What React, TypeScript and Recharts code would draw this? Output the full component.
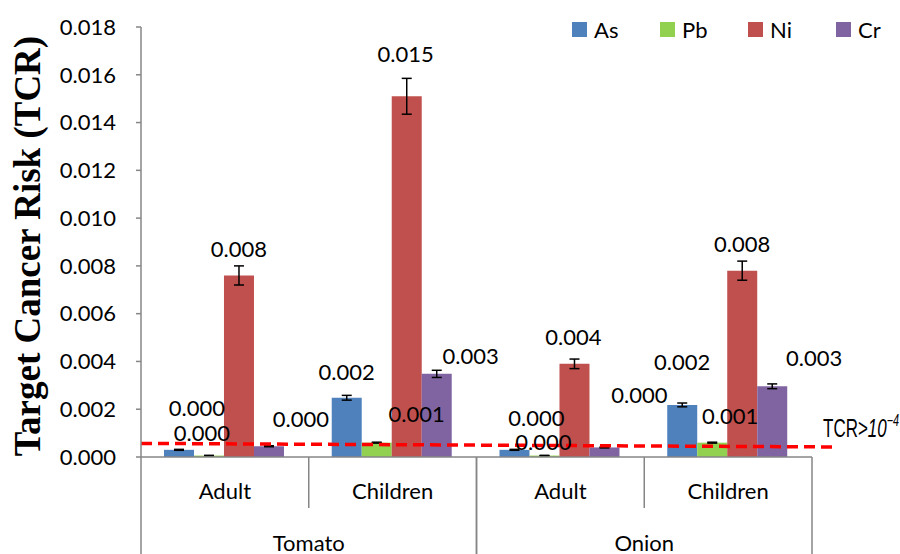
import { BarChart, Bar, XAxis, YAxis, ErrorBar, LabelList, ReferenceLine, Label } from 'recharts';

const categories = ['Adult', 'Children', 'Adult', 'Children'];
const groups = ['Tomato', 'Tomato', 'Onion', 'Onion'];

const asValues = [0.0003, 0.00248, 0.0003, 0.00218];
const asErrors = [0.00002, 0.0001, 0.00002, 0.00008];
const pbValues = [0.00006, 0.0006, 0.00006, 0.0006];
const pbErrors = [0.00001, 0.00002, 0.00001, 0.00002];
const niValues = [0.0076, 0.0151, 0.0039, 0.0078];
const niErrors = [0.0004, 0.00075, 0.0002, 0.0004];
const crValues = [0.00045, 0.00348, 0.0004, 0.00296];
const crErrors = [0.00002, 0.00015, 0.00002, 0.0001];

const yTicks = [0, 0.002, 0.004, 0.006, 0.008, 0.01, 0.012, 0.014, 0.016, 0.018];
const Y_MAX = 0.018;
const thresholdLeft = 0.00057;
const thresholdRight = 0.00042;

const data = categories.map((c, i) => ({
    name: groups[i] + ' ' + c,
    As: asValues[i], AsErr: asErrors[i],
    Pb: pbValues[i], PbErr: pbErrors[i],
    Ni: niValues[i], NiErr: niErrors[i],
    Cr: crValues[i], CrErr: crErrors[i],
}));

// data labels were dragged around by hand in the original, so nudge them
const labelShifts: Record<string, number[][]> = {
    As: [[18, -15], [0, 1], [22, -5], [0, -16]],
    Pb: [[-7, 4], [40, -2], [-1, 13], [18, 0]],
    Ni: [[0, 0], [-1, -16], [-1, 0], [0, 0]],
    Cr: [[32, -1], [34, 9], [35, -26], [42, -2]],
};

const series = [
    { key: 'As', color: '#4F81BD' },
    { key: 'Pb', color: '#92D050' },
    { key: 'Ni', color: '#C0504D' },
    { key: 'Cr', color: '#8064A2' },
];

const W = 900;
const H = 554;
const Y_AXIS_W = 141;
const X_AXIS_H = 97;
const M_TOP = 27;
const M_RIGHT = 88;
const AXIS_Y = H - X_AXIS_H;
const PLOT_H = AXIS_Y - M_TOP;
const BAND = (W - Y_AXIS_W - M_RIGHT) / categories.length;
const FONT = 'Lato, "Open Sans", sans-serif';
const GRID = '#868686';

const makeLabel = (shifts: number[][]) => (props: any) => {
    const { x, y, width, value, index } = props;
    const [dx, dy] = shifts[index] || [0, 0];
    return (
        <text x={x + width / 2 + dx} y={y - 27 + dy} textAnchor="middle" dominantBaseline="central"
            fontFamily={FONT} fontSize={22} fill="#000">
            {Number(value).toFixed(3)}
        </text>
    );
};

const XTick = (props: any) => {
    const { x, index } = props;
    const left = x - BAND / 2;
    const right = x + BAND / 2;
    const first = index % 2 === 0;
    return (
        <g>
            <text x={x} y={AXIS_Y + 33} textAnchor="middle" dominantBaseline="central"
                fontFamily={FONT} fontSize={22} fill="#000">{categories[index]}</text>
            {first ? (
                <>
                    <line x1={left} y1={AXIS_Y} x2={left} y2={H} stroke={GRID} strokeWidth={1.5} />
                    <line x1={right} y1={AXIS_Y} x2={right} y2={AXIS_Y + 51} stroke={GRID} strokeWidth={1.5} />
                    <text x={right} y={AXIS_Y + 85} textAnchor="middle" dominantBaseline="central"
                        fontFamily={FONT} fontSize={22} fill="#000">{groups[index]}</text>
                </>
            ) : (
                <line x1={right} y1={AXIS_Y} x2={right} y2={H} stroke={GRID} strokeWidth={1.5} />
            )}
        </g>
    );
};

const YTitle = (props: any) => {
    const vb = props.viewBox || { x: 0, y: M_TOP, height: PLOT_H };
    const cx = vb.x + 40;
    const cy = vb.y + vb.height / 2 + 4;
    return (
        <text x={cx} y={cy} transform={`rotate(-90, ${cx}, ${cy})`} textAnchor="middle"
            fontFamily='"Liberation Serif", "Times New Roman", serif' fontWeight="bold" fontSize={37} fill="#000">
            Target Cancer Risk (TCR)
        </text>
    );
};

// the hand-drawn red line runs a little downhill and past the plot edge
const ThresholdLine = (props: any) => {
    const { x1, y1, x2 } = props;
    const xEnd = x2 + 26;
    const yEnd = y1 + ((thresholdLeft - thresholdRight) * PLOT_H) / Y_MAX;
    return (
        <g>
            <line x1={x1} y1={y1} x2={xEnd} y2={yEnd} stroke="#FF0000" strokeWidth={3.5} strokeDasharray="11 6" />
            <g transform={`translate(${xEnd - 15}, ${yEnd - 10}) scale(0.68, 1)`}>
                <text x={0} y={0} fontFamily='"Liberation Sans", Arial, sans-serif' fontSize={25} fill="#000">
                    TCR&gt;<tspan fontStyle="italic">10</tspan>
                    <tspan fontStyle="italic" fontSize={16} dy={-11}>−4</tspan>
                </text>
            </g>
        </g>
    );
};

const App = () => {
    return (
        <div style={{ position: 'absolute', left: 0, top: 0, width: W, height: H, background: '#fff' }}>
            <BarChart width={W} height={H} data={data}
                margin={{ top: M_TOP, right: M_RIGHT, bottom: 0, left: 0 }}
                barCategoryGap="13.7%" barGap={0}>
                <XAxis dataKey="name" height={X_AXIS_H} interval={0} tick={<XTick />}
                    tickLine={false} axisLine={{ stroke: GRID, strokeWidth: 1.5 }} />
                <YAxis width={Y_AXIS_W} domain={[0, Y_MAX]} ticks={yTicks} allowDataOverflow
                    tickFormatter={(v: number) => v.toFixed(3)} tickSize={5} tickMargin={20}
                    tickLine={{ stroke: GRID, strokeWidth: 1.5 }} axisLine={{ stroke: GRID, strokeWidth: 1.5 }}
                    tick={{ fontFamily: FONT, fontSize: 22, fill: '#000' }}>
                    <Label content={<YTitle />} />
                </YAxis>
                {series.map((s) => (
                    <Bar key={s.key} dataKey={s.key} fill={s.color} isAnimationActive={false}>
                        <ErrorBar dataKey={s.key + 'Err'} width={5} stroke="#000" strokeWidth={1.5}
                            direction="y" isAnimationActive={false} />
                        <LabelList dataKey={s.key} content={makeLabel(labelShifts[s.key])} />
                    </Bar>
                ))}
                <ReferenceLine y={thresholdLeft} ifOverflow="visible" shape={<ThresholdLine />} />
            </BarChart>
            <div style={{ position: 'absolute', left: 572, top: 16, display: 'flex', fontFamily: FONT, fontSize: 22 }}>
                {series.map((s) => (
                    <div key={s.key} style={{ width: 88, display: 'flex', alignItems: 'center' }}>
                        <span style={{ width: 15, height: 15, background: s.color, marginRight: 7 }} />
                        <span>{s.key}</span>
                    </div>
                ))}
            </div>
        </div>
    );
};

export default App;
